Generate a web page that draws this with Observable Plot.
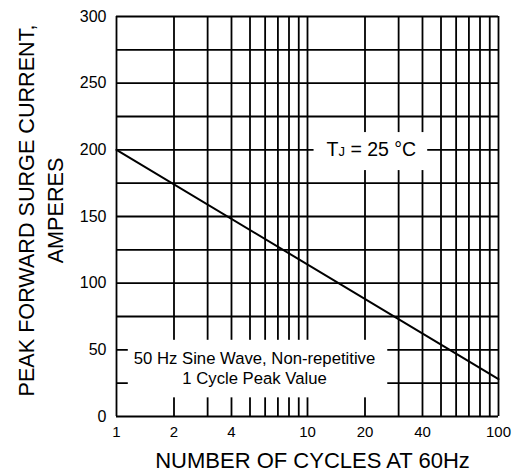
<!DOCTYPE html>
<html>
<head>
<meta charset="utf-8">
<script src="https://cdn.jsdelivr.net/npm/d3@7"></script>
<script src="https://cdn.jsdelivr.net/npm/@observablehq/plot@0.6"></script>
<style>
  body { margin: 0; background: white; }
  svg { display: block; }
</style>
</head>
<body>
<div id="chart"></div>
<script>
// ---- data ----
const curveCycles = [1, 100];
const curveAmps = [200, 28];
const xGridValues = [1, 2, 3, 4, 5, 6, 7, 8, 9, 10, 20, 30, 40, 50, 60, 70, 80, 90, 100];
const yGridValues = [0, 25, 50, 75, 100, 125, 150, 175, 200, 225, 250, 275, 300];
const xTickLabels = [1, 2, 4, 6, 10, 20, 40, 60, 100];
const yTickLabels = [0, 50, 100, 150, 200, 250, 300];
const xTitle = "NUMBER OF CYCLES AT 60Hz";
const yTitle = "PEAK FORWARD SURGE CURRENT,\nAMPERES";
const tjLabel = "TJ = 25 °C";
const tjPos = { x: 21.6, y: 200 };
const noteLabel = "50 Hz Sine Wave, Non-repetitive\n1 Cycle Peak Value";
const notePos = { x: 5.28, y: 36.75 };

const curve = curveCycles.map((c, i) => ({ cycles: c, amps: curveAmps[i] }));
const FONT = "'Liberation Sans', Arial, Helvetica, sans-serif";

const chart = Plot.plot({
  width: 525,
  height: 473,
  marginLeft: 116,
  marginRight: 27,
  marginTop: 16,
  marginBottom: 57,
  style: { fontFamily: FONT, background: "white", color: "black" },
  x: { type: "log", domain: [1, 100] },
  y: { domain: [0, 300] },
  marks: [
    Plot.ruleX(xGridValues, { stroke: "black", strokeWidth: 1.8 }),
    Plot.ruleY(yGridValues, { stroke: "black", strokeWidth: 1.8 }),
    Plot.axisX({ ticks: xTickLabels, tickSize: 0, tickPadding: 10, fontSize: 15, tickFormat: d => String(d), label: null, fill: "black" }),
    Plot.axisY({ ticks: yTickLabels, tickSize: 0, tickPadding: 10, fontSize: 16, tickFormat: d => String(d), label: null, fill: "black" }),
    Plot.line(curve, { x: "cycles", y: "amps", stroke: "black", strokeWidth: 2 }),
    Plot.text([tjLabel], { x: tjPos.x, y: tjPos.y, text: d => d, fontSize: 19.5, textAnchor: "middle", lineAnchor: "middle", fill: "black" }),
    Plot.text([noteLabel], { x: notePos.x, y: notePos.y, text: d => d, fontSize: 16.7, lineHeight: 1.23, textAnchor: "middle", lineAnchor: "middle", fill: "black" }),
    Plot.text([xTitle], { frameAnchor: "bottom", dx: 5, dy: 44, text: d => d, fontSize: 22, lineAnchor: "middle", fill: "black" }),
    Plot.text([yTitle], { frameAnchor: "left", dx: -77, dy: -6, rotate: -90, text: d => d, fontSize: 21.6, lineHeight: 1.34, lineAnchor: "middle", textAnchor: "middle", fill: "black" })
  ]
});

document.getElementById("chart").appendChild(chart);

// white boxes behind annotations, and small J in T_J
const pads = {
  tj: { l: 13, r: 11, t: 6, b: 10 },
  note: { l: 6, r: 12, t: 9, b: 9 }
};
chart.querySelectorAll("text").forEach(t => {
  if (t.textContent === tjLabel) {
    t.textContent = "";
    const ns = "http://www.w3.org/2000/svg";
    const a = document.createElementNS(ns, "tspan"); a.textContent = "T";
    const b = document.createElementNS(ns, "tspan"); b.textContent = "J"; b.setAttribute("font-size", "13");
    const c = document.createElementNS(ns, "tspan"); c.textContent = " = 25 °C";
    t.append(a, b, c);
    t.setAttribute("data-box", "tj");
  } else if (t.textContent.startsWith("50 Hz")) {
    t.setAttribute("data-box", "note");
  }
});
chart.querySelectorAll("text[data-box]").forEach(t => {
  const p = pads[t.getAttribute("data-box")];
  const bb = t.getBBox();
  const m = chart.getScreenCTM().inverse().multiply(t.getScreenCTM());
  const x0 = m.a * bb.x + m.c * bb.y + m.e;
  const y0 = m.b * bb.x + m.d * bb.y + m.f;
  const rect = document.createElementNS("http://www.w3.org/2000/svg", "rect");
  rect.setAttribute("x", x0 - p.l);
  rect.setAttribute("y", y0 - p.t);
  rect.setAttribute("width", bb.width + p.l + p.r);
  rect.setAttribute("height", bb.height + p.t + p.b);
  rect.setAttribute("fill", "white");
  const g = t.closest("g");
  g.parentNode.insertBefore(rect, g);
});
</script>
</body>
</html>
